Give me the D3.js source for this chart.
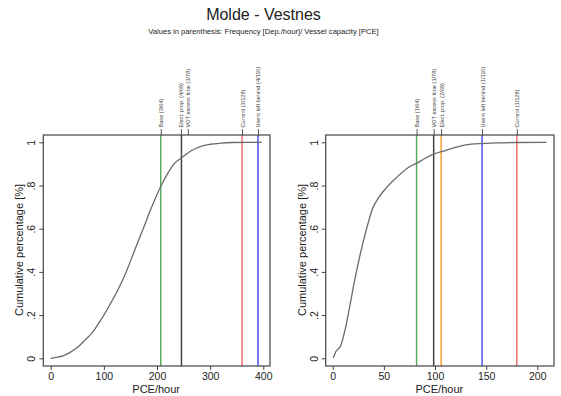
<!DOCTYPE html>
<html>
<head>
<meta charset="utf-8">
<script src="https://cdn.jsdelivr.net/npm/d3@7"></script>
<style>
  body { margin: 0; background: #fff; }
  text { font-family: "Liberation Sans", Arial, sans-serif; fill: #222; }
</style>
</head>
<body>
<div id="chart"></div>
<script>
// chart data
var title = "Molde - Vestnes";
var subtitle = "Values in parenthesis: Frequency [Dep./hour]/ Vessel capacity [PCE]";

var yTicks = [0, 0.2, 0.4, 0.6, 0.8, 1];
var yTickLabels = ["0", ".2", ".4", ".6", ".8", "1"];

// left panel: cumulative share of PCE/hour
var leftX = [0, 10, 23, 35, 48, 62, 80, 95, 111, 127, 142, 158, 174, 190, 207, 220, 232, 249, 265, 286, 300, 320, 342, 370, 397];
var leftY = [0, 0.004, 0.011, 0.025, 0.046, 0.078, 0.125, 0.18, 0.247, 0.32, 0.40, 0.50, 0.60, 0.70, 0.795, 0.855, 0.90, 0.933, 0.962, 0.984, 0.991, 0.996, 0.999, 1, 1];
var leftXTicks = [0, 100, 200, 300, 400];
var leftLineLabels = ["Base (3/64)", "Elect. prop. (4/69)", "VOT excess time (3/78)", "Current (3/128)", "Users left behind (4/110)"];
var leftLineValues = [207, 246, 246, 360, 390];
var leftLabelValues = [207, 245, 258, 360, 390];
var leftLineColors = ["green", "orange", "black", "red", "blue"];

// right panel
var rightX = [0.6, 3, 8.1, 12, 16.3, 21, 26, 32, 39, 45, 52, 62, 75, 82, 90, 99.3, 110, 120, 130, 140, 160, 180, 209];
var rightY = [0.003, 0.03, 0.062, 0.13, 0.231, 0.35, 0.463, 0.58, 0.694, 0.745, 0.787, 0.835, 0.887, 0.903, 0.925, 0.946, 0.962, 0.976, 0.988, 0.993, 0.997, 0.999, 1];
var rightXTicks = [0, 50, 100, 150, 200];
var rightLineLabels = ["Base (1/64)", "VOT excess time (1/78)", "Elect. prop. (2/69)", "Users left behind (1/110)", "Current (1/128)"];
var rightLineValues = [82, 98.7, 106, 146, 180];
var rightLabelValues = [82, 98.7, 106, 146, 180];
var rightLineColors = ["green", "black", "orange", "blue", "red"];

var colorMap = {
    green: "#5aaa5a",
    black: "#444",
    orange: "#f5a030",
    red: "#f07070",
    blue: "#4f4ff0"
};

var width = 561,
    height = 396;

var svg = d3.select("#chart")
    .append("svg")
    .attr("width", width)
    .attr("height", height);

// titles
svg.append("text")
    .attr("x", 263.5)
    .attr("y", 20)
    .attr("text-anchor", "middle")
    .style("font-size", "16px")
    .text(title);

svg.append("text")
    .attr("x", 263.5)
    .attr("y", 34)
    .attr("text-anchor", "middle")
    .style("font-size", "7.6px")
    .style("fill", "#222")
    .text(subtitle);

function drawPanel (opts) {
    var g = svg.append("g");
    var box = opts.box;

    var x = d3.scaleLinear()
        .domain(opts.xDomain)
        .range(opts.xRange);
    var y = d3.scaleLinear()
        .domain([0, 1])
        .range([358.3, 142.3]);

    // y axis, stata style rotated labels
    var yAxis = g.append("g")
        .attr("transform", `translate(${box.left},0)`)
        .call(d3.axisLeft(y).tickValues(yTicks).tickSize(4).tickFormat((d, i) => yTickLabels[i]));
    yAxis.select(".domain").remove();
    yAxis.selectAll("line").attr("stroke", "#444");
    yAxis.selectAll("text")
        .attr("x", null).attr("dy", null)
        .attr("text-anchor", "middle")
        .attr("transform", "translate(-8,0) rotate(-90)")
        .style("font-size", "10.5px")
        .style("fill", "#222");

    // x axis
    var xAxis = g.append("g")
        .attr("transform", `translate(0,${box.bottom})`)
        .call(d3.axisBottom(x).tickValues(opts.xTicks).tickSize(4).tickFormat(d3.format("d")));
    xAxis.select(".domain").remove();
    xAxis.selectAll("line").attr("stroke", "#444");
    xAxis.selectAll("text")
        .attr("y", 7)
        .style("font-size", "10.5px")
        .style("fill", "#222");

    // axis titles
    g.append("text")
        .attr("transform", `translate(${box.left - 20},250) rotate(-90)`)
        .attr("text-anchor", "middle")
        .style("font-size", "11px")
        .text("Cumulative percentage [%]");

    g.append("text")
        .attr("x", (box.left + box.right) / 2 - 0.5)
        .attr("y", 393)
        .attr("text-anchor", "middle")
        .style("font-size", "11px")
        .text("PCE/hour");

    // vertical reference lines; skip a line that a later one draws over
    var vlines = opts.lineValues
        .map((v, i) => ({ v: v, color: opts.lineColors[i], i: i }))
        .filter((d) => !opts.lineValues.some((w, j) => j > d.i && w === d.v));

    g.selectAll(".vline")
        .data(vlines)
        .enter()
        .append("line")
        .attr("class", "vline")
        .attr("x1", (d) => x(d.v))
        .attr("x2", (d) => x(d.v))
        .attr("y1", box.top)
        .attr("y2", box.bottom)
        .attr("stroke", (d) => colorMap[d.color])
        .attr("stroke-width", 1.5);

    // top axis with line labels
    var top = g.append("g")
        .attr("transform", `translate(0,${box.top})`)
        .call(d3.axisTop(x).tickValues(opts.labelValues).tickSize(6).tickFormat((d, i) => opts.lineLabels[i]));
    top.select(".domain").remove();
    top.selectAll("line").attr("stroke", "#555");
    top.selectAll("text")
        .attr("y", null).attr("dy", null)
        .attr("text-anchor", "start")
        .attr("dominant-baseline", "central")
        .attr("transform", "translate(0,-7.5) rotate(-90)")
        .style("font-size", "5.6px")
        .style("fill", "#444");

    // cumulative curve
    var line = d3.line()
        .x((d) => x(d[0]))
        .y((d) => y(d[1]))
        .curve(d3.curveMonotoneX);

    g.append("path")
        .datum(d3.zip(opts.xs, opts.ys))
        .attr("d", line)
        .attr("fill", "none")
        .attr("stroke", "#6a6a6a")
        .attr("stroke-width", 1.3);

    // frame
    g.append("rect")
        .attr("x", box.left)
        .attr("y", box.top)
        .attr("width", box.right - box.left)
        .attr("height", box.bottom - box.top)
        .attr("fill", "none")
        .attr("stroke", "#444")
        .attr("stroke-width", 1.2);
}

drawPanel({
    box: { left: 43.3, right: 270, top: 135, bottom: 366 },
    xDomain: [0, 400],
    xRange: [50.7, 263.3],
    xTicks: leftXTicks,
    xs: leftX, ys: leftY,
    lineValues: leftLineValues,
    labelValues: leftLabelValues,
    lineLabels: leftLineLabels,
    lineColors: leftLineColors
});

drawPanel({
    box: { left: 325.7, right: 554, top: 135, bottom: 366 },
    xDomain: [0, 200],
    xRange: [332.7, 537.3],
    xTicks: rightXTicks,
    xs: rightX, ys: rightY,
    lineValues: rightLineValues,
    labelValues: rightLabelValues,
    lineLabels: rightLineLabels,
    lineColors: rightLineColors
});
</script>
</body>
</html>
